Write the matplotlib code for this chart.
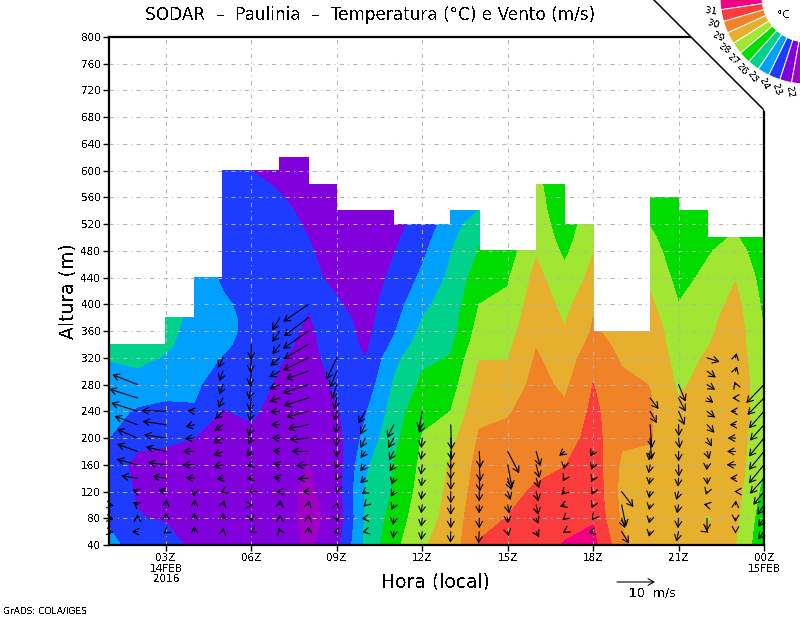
"""SODAR profile: temperature shading with wind arrows."""

import matplotlib
matplotlib.use("Agg")
import matplotlib.pyplot as plt
import numpy as np
from matplotlib.patches import Polygon, Wedge

plt.rcParams["font.family"] = ["DejaVu Sans"]
plt.rcParams["text.antialiased"] = False

heights = [40, 80, 120, 160, 200, 240, 280, 320, 340, 360, 380, 400, 440, 480,
           500, 520, 540, 560, 580, 600, 620]
hours = list(range(1, 25))

# temperature per hour, from the lowest height up to the top valid gate
temp_by_hour = [
    [24.4, 23.8, 23.6, 23.4, 24.0, 24.3, 24.6, 25.05, 25.4],
    [23.4, 23.05, 22.9, 22.8, 23.2, 23.9, 24.5, 25.3, 25.6],
    [23.5, 22.9, 22.7, 22.8, 23.1, 23.8, 24.3, 24.9, 25.2, 25.4, 25.6],
    [22.7, 22.5, 22.5, 22.6, 23.0, 23.9, 24.2, 24.4, 24.45, 24.5, 24.6, 24.7, 24.8],
    [22.6, 22.4, 22.3, 22.4, 22.6, 22.95, 23.4, 23.95, 24.2, 24.4, 24.4, 24.2, 23.8, 23.5,
     23.5, 23.5, 23.5, 23.5, 23.5, 23.5],
    [22.6, 22.4, 22.3, 22.4, 22.7, 23.2, 23.5, 23.6, 23.6, 23.6, 23.6, 23.6, 23.6, 23.6,
     23.5, 23.5, 23.4, 23.3, 23.2, 23.0],
    [22.5, 22.4, 22.3, 22.3, 22.4, 22.5, 22.8, 23.1, 23.3, 23.4, 23.5, 23.5, 23.5, 23.5,
     23.4, 23.3, 23.2, 23.05, 22.9, 22.7, 22.6],
    [21.8, 21.7, 21.8, 21.97, 22.02, 22.2, 22.4, 22.6, 22.7, 22.8, 22.95, 23.05, 23.2, 23.1,
     23.0, 22.9, 22.8, 22.7, 22.6, 22.5, 22.4],
    [22.7, 22.3, 22.5, 22.5, 22.6, 22.9, 23.2, 23.5, 23.6, 23.6, 23.4, 23.1, 22.8, 22.6,
     22.5, 22.5, 22.5, 22.5, 22.5],
    [25.2, 25.1, 25.1, 24.8, 24.3, 23.9, 23.4, 23.0, 22.8, 22.7, 22.6, 22.6, 22.5, 22.5,
     22.5, 22.5, 22.5],
    [26.7, 26.4, 26.1, 26.05, 25.7, 25.4, 25.1, 24.7, 24.2, 23.9, 23.7, 23.5, 23.2, 22.95,
     22.8, 22.7, 22.6],
    [27.9, 27.6, 27.4, 27.2, 27.05, 26.8, 26.2, 25.8, 25.5, 25.25, 25.0, 24.8, 24.2, 23.8,
     23.6, 23.4],
    [28.4, 28.3, 28.2, 28.1, 27.7, 27.0, 26.5, 26.05, 25.85, 25.6, 25.5, 25.4, 25.2, 24.95,
     24.75, 24.5, 24.3],
    [30.05, 29.8, 29.5, 29.3, 29.1, 28.8, 28.4, 27.95, 27.6, 27.4, 27.2, 27.0, 26.5, 26.05,
     25.9, 25.6, 25.05],
    [30.3, 30.02, 29.8, 29.6, 29.3, 28.9, 28.4, 27.95, 27.8, 27.6, 27.4, 27.2, 26.9, 26.5],
    [30.5, 30.02, 30.1, 29.8, 29.7, 29.5, 29.3, 29.1, 28.95, 28.8, 28.7, 28.6, 28.3, 27.9,
     27.7, 27.6, 27.5, 27.4, 27.3],
    [31.1, 30.5, 30.35, 29.97, 29.5, 29.2, 28.8, 28.5, 28.3, 28.05, 27.9, 27.7, 27.3, 26.8,
     26.6, 26.4, 26.2, 26.1, 25.95],
    [31.3, 30.9, 30.7, 30.6, 30.4, 30.2, 30.02, 29.6, 29.3, 29.1, 29.0, 28.8, 28.3, 27.95,
     27.8, 27.7],
    [29.3, 28.85, 28.7, 28.85, 29.15, 29.4, 29.2, 28.9, 28.8, 28.7],
    [28.2, 28.3, 28.4, 28.8, 29.05, 29.1, 28.98, 28.8, 28.7, 28.6, 28.4, 28.2, 27.8, 27.4,
     27.2, 26.95, 26.7, 26.5],
    [28.3, 28.4, 28.5, 28.5, 28.4, 28.2, 27.85, 27.6, 27.45, 27.35, 27.2, 27.02, 26.7, 26.45,
     26.3, 26.2, 26.1, 26.05],
    [28.2, 27.95, 28.3, 28.4, 28.5, 28.4, 28.3, 28.1, 27.95, 27.8, 27.7, 27.5, 27.2, 26.9,
     26.7, 26.5, 26.3],
    [28.0, 28.2, 28.4, 28.5, 28.5, 28.5, 28.5, 28.5, 28.5, 28.5, 28.4, 28.3, 27.95, 27.4, 27.1],
    [26.2, 26.4, 26.7, 27.05, 27.3, 27.5, 27.5, 27.3, 27.1, 27.02, 26.9, 26.8, 26.6, 26.4, 26.2],
]

temp_levels = [15, 22, 23, 24, 25, 26, 27, 28, 29, 30, 31, 40]
temp_colors = ["#a000c8", "#8200dc", "#1e3cff", "#00a0ff", "#00d28c", "#00dc00",
               "#a0e632", "#e6af2d", "#f08228", "#fa3c3c", "#f00082"]
bar_labels = ["31", "30", "29", "28", "27", "26", "25", "24", "23", "22"]

# wind components (m/s) per hour, rows every 20 m starting at 60 m
wind_hours = [1, 2, 3, 4, 5, 6, 7, 8, 9, 10, 11, 12, 13, 14, 15, 16, 17, 18, 19, 20, 21, 22, 23, 24]
wind_u = [
    [1.3, 1.3, 1.3],
    [-1.5, 0.0, -1.2, -1.3, -4.4, -5.6, -5.5, -5.6, -6.2, -7.1, -7.6, -6.8],
    [-0.7, 0.0, 0.2, -2.1, -3.7, -4.8, -5.4, -5.9, -6.3, -6.6],
    [0.0, 0.0, 0.2, -0.2, -2.4, -3.2, -3.1, -2.6, -2.4, -1.8],
    [0.2, 0.1, 0.4, -0.7, -1.7, -2.6, -2.6, -2.6, -2.3, -2.1, -1.3, -1.0, -1.0, -1.3],
    [-0.4, 0.2, 0.4, -0.5, -1.2, -1.2, -1.4, -0.9, -0.7, -0.5, -0.5, -0.7, -0.5, -0.3, -0.1],
    [-0.5, 0.0, 0.2, -0.9, -1.8, -1.8, -2.0, -2.2, -2.4, -2.7, -2.9, -2.9, -2.9, -2.6, -2.0, -2.1, -2.1],
    [0.0, 0.1, 0.3, -1.6, -2.9, -3.3, -4.5, -5.0, -5.6, -6.0, -6.7, -6.9, -6.2, -6.9, -6.7, -6.9, -6.7, -6.8],
    [-1.0, 0.3, 0.2, -0.1, -0.4, -0.5, -0.1, -0.3, -0.4, -0.7, -0.7, -1.3, -1.9, -2.8],
    [-0.8, -1.0, -0.5, -1.0, -1.4, -1.4, -1.3, -1.3, -1.4, -1.9],
    [-0.2, -0.2, -0.6, -0.8, -0.6, -1.1, -1.3, -1.5, -1.8],
    [-0.3, -0.3, -0.3, -0.3, -0.3, -0.4, -0.4, -0.3, -0.9, -0.9],
    [-0.1, 0.0, 0.0, 0.0, 0.0, 0.0, 0.0, 0.2, 0.2],
    [-0.2, 0.0, 0.0, 0.0, 0.2, 0.3, 0.3],
    [0.3, 0.1, 0.4, 0.8, 1.0, 1.2, 3.1],
    [0.8, 0.6, 0.6, 0.6, 0.8, 0.9, 1.1],
    [-0.5, -0.6, -1.3, -0.9, -0.5, -0.2, -1.5],
    [-1.3, -0.4, -0.4, -0.4, -0.5, -0.5, -0.8],
    [2.0, 0.9, 1.2, 3.2],
    [-0.3, -0.3, -0.3, -0.3, -0.3, -0.4, -0.3, 0.4, 0.5, 1.8, 2.3],
    [-0.6, -0.2, -0.4, -0.6, -0.2, 0.1, 0.0, 0.3, 0.1, 1.6, 1.9, 1.9],
    [0.4, 0.0, -0.9, -0.3, 0.1, -0.1, 0.6, 1.3, 2.0, 2.2, 1.7, 2.2, 2.4, 3.4],
    [0.0, 0.0, 0.1, -0.3, -1.5, -2.4, -2.3, -2.1, -1.6, -1.4, -0.9, -0.3, 0.4, 0.3],
    [-1.6, -1.6, -1.8, -2.9, -3.8, -4.1, -4.1, -4.1, -3.8, -4.1, -4.5, -4.8],
]
wind_v = [
    [-0.2, -0.2, -0.2],
    [0.0, 1.0, 0.8, 0.5, 0.6, 1.5, 2.0, 2.4, 2.3, 2.3, 2.4, 2.7],
    [-0.5, 1.5, 1.5, 0.5, 0.6, 0.6, 1.2, 0.9, 0.9, 0.2],
    [1.5, 1.5, 1.5, -1.3, 0.2, 0.0, 0.0, -0.2, -0.6, 0.3],
    [1.0, 1.5, 1.3, -0.3, -0.3, -0.5, -1.2, -1.4, -1.8, -2.1, -2.7, -2.7, -2.7, -2.7],
    [-0.2, -1.0, 0.0, -0.5, -0.3, -0.5, -1.4, -1.8, -3.2, -2.7, -3.6, -4.0, -4.0, -4.0, -4.1],
    [1.0, 1.0, 1.4, 0.0, 0.4, 0.4, 0.2, 0.0, 0.0, -0.2, -0.9, -1.2, -1.6, -2.2, -2.7, -2.9, -3.4],
    [1.5, 1.0, 1.2, 0.0, -0.2, -0.2, 0.0, -0.5, -1.1, -1.6, -2.1, -2.3, -2.1, -3.4, -3.9, -4.8, -5.0, -4.7],
    [-0.3, -1.0, 0.8, -0.3, -0.7, -1.2, -1.6, -2.3, -2.3, -2.5, -3.2, -4.0, -4.5, -5.9],
    [-0.2, -0.1, -0.5, -0.7, -1.4, -1.8, -1.8, -2.7, -2.7, -3.3],
    [-1.8, -1.8, -1.4, -1.4, -1.8, -1.8, -2.4, -2.7, -3.6],
    [-2.3, -2.3, -2.3, -2.3, -2.3, -2.7, -2.3, -2.7, -2.3, -5.0],
    [-3.0, -2.7, -2.7, -3.2, -3.2, -4.0, -5.0, -6.0, -6.8],
    [-3.2, -2.7, -2.3, -2.7, -3.6, -4.5, -4.5],
    [-1.2, -1.4, -2.3, -2.3, -3.2, -6.3, -5.9],
    [-1.5, -1.5, -2.7, -2.7, -2.7, -3.6, -4.0],
    [-0.3, -0.5, -0.5, -0.9, -0.9, -1.2, -1.2],
    [-0.3, -0.5, -0.9, -0.9, -1.1, -1.4, -1.4],
    [-3.2, -2.7, -5.9, -4.2],
    [-1.4, -1.4, -1.4, -1.8, -1.8, -2.3, -2.5, -5.9, -6.3, -3.2, -3.0],
    [-2.7, -2.7, -2.3, -2.3, -2.3, -3.2, -2.7, -2.8, -3.1, -3.7, -3.7, -4.6],
    [-0.3, -3.5, 0.2, -0.9, -1.8, -1.5, -2.1, -2.3, -2.2, -1.7, -1.3, -1.4, -1.7, -1.1],
    [-0.5, -1.0, 1.2, 0.0, 0.0, 0.0, 0.0, 0.0, 0.0, 0.0, 0.0, 0.8, 1.3, 1.3],
    [-2.1, -2.3, -2.7, -3.6, -4.2, -5.0, -5.0, -5.0, -4.3, -4.6, -4.6, -5.0],
]

x_ticks = [3, 6, 9, 12, 15, 18, 21, 24]
x_labels = ["03Z\n14FEB\n2016", "06Z", "09Z", "12Z", "15Z", "18Z", "21Z", "00Z\n15FEB"]
y_ticks = list(range(40, 801, 40))

arrow_style = dict(arrowstyle="->,head_length=0.42,head_width=0.24",
                   color="black", lw=0.8, shrinkA=0, shrinkB=0)

fig = plt.figure(figsize=(8.0, 6.18), dpi=100)
ax = fig.add_axes([109 / 800, 1 - 545 / 618, 655 / 800, 508 / 618])

grid = np.full((len(heights), len(hours)), np.nan)
for col, profile in enumerate(temp_by_hour):
    grid[: len(profile), col] = profile
ax.contourf(hours, heights, grid, levels=temp_levels, colors=temp_colors,
            corner_mask=False, antialiased=False, zorder=1)

ax.set_xlim(1, 24)
ax.set_ylim(40, 800)
ax.set_xticks(x_ticks, x_labels, linespacing=1.05)
ax.set_yticks(y_ticks)
ax.tick_params(axis="both", labelsize=7.5, length=4, width=1, pad=2)
ax.grid(True, color="#b4b4b4", linewidth=0.75, linestyle=(0, (4, 4, 1, 4)), zorder=2)
ax.set_axisbelow(False)
for side in ax.spines:
    ax.spines[side].set_linewidth(1.6)
    ax.spines[side].set_zorder(3)

# arrows start on the gate, length is 3.7 px per m/s
px_per_ms = 3.7
hour_per_px = 1 / 28.48
metre_per_px = 760 / 508
for col, hour in enumerate(wind_hours):
    for row, (u, v) in enumerate(zip(wind_u[col], wind_v[col])):
        h = 60 + 20 * row
        tip = (hour + u * px_per_ms * hour_per_px, h + v * px_per_ms * metre_per_px)
        ax.annotate("", xy=tip, xytext=(hour, h), annotation_clip=False, zorder=4,
                    arrowprops=arrow_style)

ax.set_xlabel("Hora (local)", fontsize=13.5, labelpad=0)
ax.xaxis.set_label_coords((435 - 109) / 655, -(572 - 545) / 508)
ax.set_ylabel("Altura (m)", fontsize=13.5)
ax.yaxis.set_label_coords(-(109 - 77) / 655, (545 - 291) / 508)

# overlay in pixel coordinates for the cut corner, colour key and page text
over = fig.add_axes([0, 0, 1, 1], facecolor="none", zorder=5)
over.set_xlim(0, 800)
over.set_ylim(618, 0)
over.axis("off")
over.add_patch(Polygon([(654, 0), (775, 0), (775, 121)], closed=True, color="white", lw=0))
over.plot([654, 763], [0, 109], color="black", lw=1.1)

key_center = (807, -3)
key_start = 171.6
key_step = 7.93
for i, color in enumerate(temp_colors[::-1]):
    theta2 = key_start - (i - 1) * key_step
    over.add_patch(Wedge(key_center, 87, theta2 - key_step, theta2, width=42,
                         facecolor=color, edgecolor="white", lw=0.7))
for i, label in enumerate(bar_labels):
    theta = np.deg2rad(key_start - i * key_step)
    over.text(key_center[0] + 97 * np.cos(theta), key_center[1] + 97 * np.sin(theta), label,
              fontsize=6.5, rotation=key_start - i * key_step - 180, ha="center", va="center",
              rotation_mode="anchor")
over.text(783, 15, "°C", fontsize=7.5, ha="center", va="center")

over.text(370, 15, "SODAR  –  Paulinia  –  Temperatura (°C) e Vento (m/s)",
          fontsize=12.2, ha="center", va="center")
over.text(3, 611, "GrADS: COLA/IGES", fontsize=6.5, ha="left", va="center")
over.annotate("", xy=(655, 582), xytext=(617, 582), arrowprops=arrow_style)
over.text(652, 593, "10  m/s", fontsize=9, ha="center", va="center")

fig.savefig("out.png", dpi=100)
